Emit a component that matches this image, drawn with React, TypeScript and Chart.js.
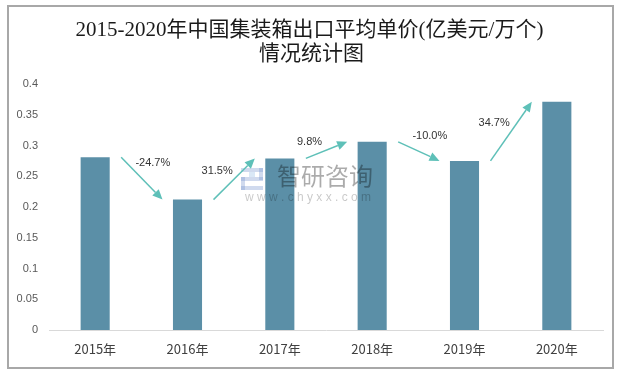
import React, { useEffect, useRef } from "react";
import { Chart, registerables } from "chart.js";

Chart.register(...registerables);

const TITLE_LINES = ["2015-2020年中国集装箱出口平均单价(亿美元/万个)", "情况统计图"];
const CATEGORIES = ["2015年", "2016年", "2017年", "2018年", "2019年", "2020年"];
const PRICES = [0.281, 0.212, 0.279, 0.306, 0.275, 0.371];
const GROWTH_LABELS = ["-24.7%", "31.5%", "9.8%", "-10.0%", "34.7%"];
const Y_TICK_LABELS = ["0", "0.05", "0.1", "0.15", "0.2", "0.25", "0.3", "0.35", "0.4"];
const WATERMARK_NAME = "智研咨询";
const WATERMARK_URL = "w w w . c h y x x . c o m";

const BAR_COLOR = "#5b8fa7";
const ARROW_COLOR = "#5ec0b8";
const CJK = '"Noto Sans CJK SC", "Liberation Sans", sans-serif';
const NUM = '"Liberation Sans", "Noto Sans CJK SC", sans-serif';
const TITLE_FONT = '"Liberation Serif", "Noto Sans CJK SC", serif';

const decorPlugin = {
  id: "decor",
  beforeDraw(chart: any) {
    const { ctx, width, height } = chart;
    ctx.save();
    ctx.fillStyle = "#ffffff";
    ctx.fillRect(0, 0, width, height);
    ctx.strokeStyle = "#a8a8a8";
    ctx.lineWidth = 2;
    ctx.strokeRect(8, 6, width - 14, height - 9);
    ctx.restore();
  },
  afterDatasetsDraw(chart: any) {
    const { ctx, chartArea } = chart;
    const meta = chart.getDatasetMeta(0);
    ctx.save();
    // watermark
    const cx = (chartArea.left + chartArea.right) / 2;
    const cy = (chartArea.top + chartArea.bottom) / 2;
    ctx.fillStyle = "rgba(0,0,0,0.33)";
    ctx.font = `24px ${CJK}`;
    ctx.textAlign = "center";
    ctx.textBaseline = "middle";
    ctx.fillText(WATERMARK_NAME, cx - 1, cy - 31);
    ctx.fillStyle = "rgba(0,0,0,0.22)";
    ctx.font = `12px ${NUM}`;
    ctx.fillText(WATERMARK_URL, cx - 18, cy - 9);
    // logo
    ctx.fillStyle = "rgba(120,150,205,0.35)";
    const lx = cx - 85, ly = cy - 39;
    ctx.fillRect(lx, ly, 22, 4);
    ctx.fillRect(lx + 18, ly, 4, 12);
    ctx.fillRect(lx, ly + 9, 22, 4);
    ctx.fillRect(lx, ly + 9, 4, 13);
    ctx.fillRect(lx, ly + 18, 22, 4);
    ctx.fillStyle = "rgba(150,190,230,0.35)";
    ctx.fillRect(lx + 8, ly + 4, 6, 5);

    // growth arrows
    for (let i = 0; i < GROWTH_LABELS.length; i++) {
      const a = meta.data[i];
      const b = meta.data[i + 1];
      const x1 = a.x + 26;
      const y1 = a.y;
      const x2 = b.x - 25;
      const y2 = b.y;
      const ang = Math.atan2(y2 - y1, x2 - x1);
      const headLen = 10;
      const headW = 4.5;
      const bx = x2 - headLen * Math.cos(ang);
      const by = y2 - headLen * Math.sin(ang);
      ctx.strokeStyle = ARROW_COLOR;
      ctx.fillStyle = ARROW_COLOR;
      ctx.lineWidth = 1.5;
      ctx.beginPath();
      ctx.moveTo(x1, y1);
      ctx.lineTo(bx, by);
      ctx.stroke();
      ctx.beginPath();
      ctx.moveTo(x2, y2);
      ctx.lineTo(bx + headW * Math.sin(ang), by - headW * Math.cos(ang));
      ctx.lineTo(bx - headW * Math.sin(ang), by + headW * Math.cos(ang));
      ctx.closePath();
      ctx.fill();
      const mx = (x1 + x2) / 2;
      const my = (y1 + y2) / 2;
      const down = y2 > y1;
      ctx.fillStyle = "#333333";
      ctx.font = `11px ${NUM}`;
      ctx.textAlign = "center";
      ctx.textBaseline = "middle";
      ctx.fillText(GROWTH_LABELS[i], down ? mx + 11 : mx - 17, down ? my - 15 : my - 8);
    }
    ctx.restore();
  },
  afterDraw(chart: any) {
    const { ctx, width } = chart;
    ctx.save();
    ctx.fillStyle = "#1a1a1a";
    ctx.font = `21px ${TITLE_FONT}`;
    ctx.textAlign = "center";
    ctx.textBaseline = "middle";
    ctx.fillText(TITLE_LINES[0], width / 2, 30);
    ctx.fillText(TITLE_LINES[1], width / 2 + 2, 54);
    ctx.restore();
  },
};

export default function App() {
  const ref = useRef<HTMLCanvasElement | null>(null);
  useEffect(() => {
    document.body.style.margin = "0";
    const canvas = ref.current;
    if (!canvas) return;
    const chart = new Chart(canvas, {
      type: "bar",
      data: {
        labels: CATEGORIES,
        datasets: [
          {
            data: PRICES,
            backgroundColor: BAR_COLOR,
            borderColor: "#4d7f96",
            borderWidth: 0,
            categoryPercentage: 1,
            barPercentage: 0.315,
          },
        ],
      },
      options: {
        animation: false,
        responsive: false,
        devicePixelRatio: 1,
        layout: { padding: { top: 84, left: 0, right: 16, bottom: 0 } },
        plugins: {
          legend: { display: false },
          title: { display: false },
          tooltip: { enabled: false },
        },
        scales: {
          x: {
            grid: { display: false, drawTicks: false },
            border: { display: true, color: "#d9d9d9", width: 1 },
            ticks: { color: "#404040", font: { family: CJK, size: 13 }, padding: 11 },
            afterFit: (s: any) => {
              s.height = 41;
            },
          },
          y: {
            min: 0,
            max: 0.4,
            grid: { display: false, drawTicks: false },
            border: { display: false },
            ticks: {
              stepSize: 0.05,
              color: "#595959",
              font: { family: NUM, size: 11 },
              padding: 11,
              callback: (_v: any, i: number) => Y_TICK_LABELS[i],
            },
            afterFit: (s: any) => {
              s.width = 49;
            },
          },
        },
      },
      plugins: [decorPlugin],
    });
    return () => chart.destroy();
  }, []);
  return (
    <div style={{ width: 619, height: 371 }}>
      <canvas ref={ref} width={619} height={371} style={{ width: 619, height: 371, display: "block" }} />
    </div>
  );
}
